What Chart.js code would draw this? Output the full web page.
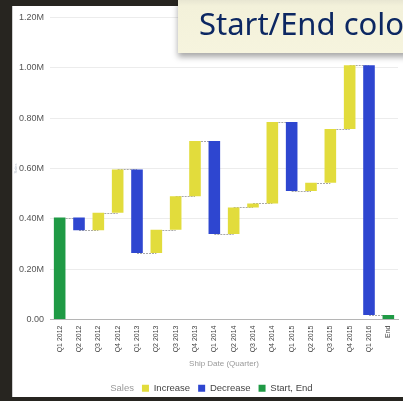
<!DOCTYPE html>
<html>
<head>
<meta charset="utf-8">
<script src="https://cdn.jsdelivr.net/npm/chart.js@4"></script>
<style>
  html, body { margin: 0; padding: 0; }
  body { width: 403px; height: 401px; background: #272520; position: relative; overflow: hidden; }
  #frame { position: absolute; left: 12px; top: 6px; width: 391px; height: 391px; background: #fff; border-left: 1px solid #cfcfcf; box-sizing: border-box; overflow: hidden; }
  #banner { position: absolute; left: 178px; top: 0; width: 240px; height: 53px;
    background: linear-gradient(#e8e6d2 0, #f3f1da 6px, #f6f4de 100%);
    box-shadow: 0 4px 6px rgba(0,0,0,0.35); overflow: hidden; }
  #banner span { position: absolute; left: 21px; top: 8px; font-family: "Noto Sans", sans-serif; font-size: 31px; line-height: 31px; color: #0c2762; white-space: nowrap; }
</style>
</head>
<body>
<div id="frame"><canvas id="myChart" width="390" height="397"></canvas></div>
<div id="banner"><span>Start/End colors</span></div>
<script>
// Dados do gráfico (cascata de vendas por trimestre)
const quarters = ['Q1 2012', 'Q2 2012', 'Q3 2012', 'Q4 2012', 'Q1 2013', 'Q2 2013', 'Q3 2013', 'Q4 2013',
    'Q1 2014', 'Q2 2014', 'Q3 2014', 'Q4 2014', 'Q1 2015', 'Q2 2015', 'Q3 2015', 'Q4 2015', 'Q1 2016', 'End'];
const salesChange = [405000, -50000, 69000, 172000, -332000, 93000, 133000, 219000,
    -369000, 105000, 16000, 324000, -275000, 33000, 214000, 253000, -992000];
const endTotal = 18000;
const yTicks = [0, 200000, 400000, 600000, 800000, 1000000, 1200000];
const legendLabels = ['Increase', 'Decrease', 'Start, End'];
const barColors = ['#e2dc3c', '#2e46d0', '#1f9a45'];

const fontFam = '"Liberation Sans", Arial, sans-serif';

// Montar barras flutuantes [início, fim]
const increase = [], decrease = [], startEnd = [], levels = [];
let total = 0;
salesChange.forEach((chg, i) => {
    const from = total;
    total += chg;
    levels.push(total);
    increase.push(null); decrease.push(null); startEnd.push(null);
    if (i === 0) startEnd[i] = [from, total];
    else if (chg >= 0) increase[i] = [from, total];
    else decrease[i] = [from, total];
});
increase.push(null); decrease.push(null); startEnd.push([0, endTotal]);

// Linhas pontilhadas entre as barras
const connectors = {
    id: 'connectors',
    beforeDatasetsDraw(chart) {
        const ctx = chart.ctx, x = chart.scales.x, y = chart.scales.y;
        ctx.save();
        ctx.strokeStyle = '#a8a8a8';
        ctx.lineWidth = 1;
        ctx.setLineDash([2, 1]);
        levels.forEach((lv, i) => {
            const py = Math.round(y.getPixelForValue(lv)) + 0.5;
            ctx.beginPath();
            ctx.moveTo(x.getPixelForValue(i), py);
            ctx.lineTo(x.getPixelForValue(i + 1), py);
            ctx.stroke();
        });
        ctx.restore();
    }
};

const ctx = document.getElementById('myChart').getContext('2d');
const myChart = new Chart(ctx, {
    type: 'bar',
    data: {
        labels: quarters,
        datasets: [increase, decrease, startEnd].map((d, k) => ({
            label: legendLabels[k],
            data: d,
            backgroundColor: barColors[k],
            grouped: false,
            barPercentage: 0.6,
            categoryPercentage: 1
        }))
    },
    options: {
        responsive: false,
        animation: false,
        layout: { padding: { top: 6, right: 5, left: 0, bottom: 0 } },
        plugins: {
            tooltip: { enabled: false },
            legend: {
                position: 'bottom',
                labels: {
                    boxWidth: 7, boxHeight: 7, padding: 8,
                    font: { family: fontFam, size: 9.5 },
                    color: '#444',
                    generateLabels(chart) {
                        const items = [{ text: 'Sales', fillStyle: 'rgba(0,0,0,0)', strokeStyle: 'rgba(0,0,0,0)', lineWidth: 0, fontColor: '#999', datasetIndex: -1 }];
                        chart.data.datasets.forEach((ds, i) => items.push({
                            text: ds.label, fillStyle: ds.backgroundColor, strokeStyle: ds.backgroundColor,
                            lineWidth: 0, fontColor: '#444', datasetIndex: i
                        }));
                        return items;
                    }
                }
            }
        },
        scales: {
            x: {
                afterFit: scale => { scale.height = 56; },
                grid: { display: false, drawTicks: false },
                border: { color: '#b5b5b5' },
                ticks: { minRotation: 90, maxRotation: 90, padding: 6, color: '#444', font: { family: fontFam, size: 7 } },
                title: { display: true, text: 'Ship Date (Quarter)', color: '#999', font: { family: fontFam, size: 8 }, padding: { top: 4, bottom: 7 } }
            },
            y: {
                min: 0,
                max: 1200000,
                afterBuildTicks: scale => { scale.ticks = yTicks.map(v => ({ value: v })); },
                afterFit: scale => { scale.width = 37; },
                grid: { color: '#ececec', drawTicks: false },
                border: { display: false },
                ticks: {
                    padding: 6, color: '#555', font: { family: fontFam, size: 9 },
                    callback: v => v === 0 ? '0.00' : (v / 1e6).toFixed(2) + 'M'
                },
                title: { display: true, text: 'Sales', color: '#b8c0cc', font: { family: fontFam, size: 4 }, padding: 0 }
            }
        }
    },
    plugins: [connectors]
});
</script>
</body>
</html>
